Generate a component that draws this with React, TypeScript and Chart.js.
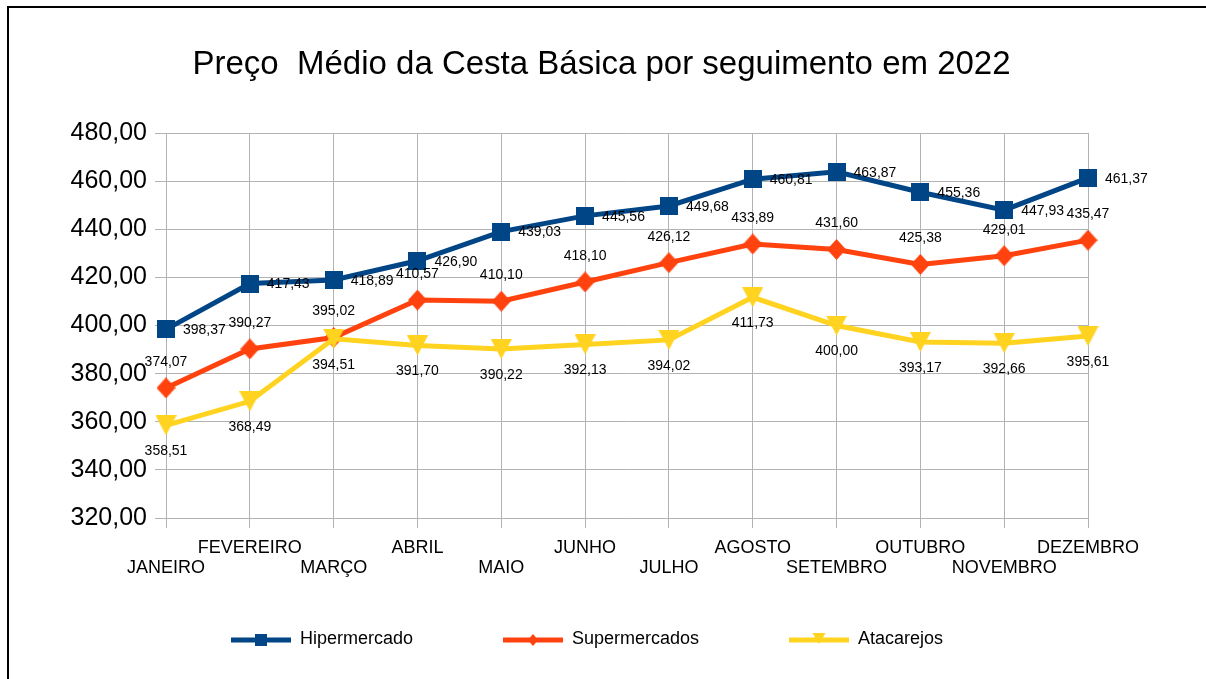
import React, { useEffect, useRef } from 'react';
import { Chart, registerables } from 'chart.js';

Chart.register(...registerables);

const chartTitle = 'Preço  Médio da Cesta Básica por seguimento em 2022';
const months = [
  'JANEIRO', 'FEVEREIRO', 'MARÇO', 'ABRIL', 'MAIO', 'JUNHO',
  'JULHO', 'AGOSTO', 'SETEMBRO', 'OUTUBRO', 'NOVEMBRO', 'DEZEMBRO',
];
const hipermercado = [398.37, 417.43, 418.89, 426.9, 439.03, 445.56, 449.68, 460.81, 463.87, 455.36, 447.93, 461.37];
const supermercados = [374.07, 390.27, 395.02, 410.57, 410.1, 418.1, 426.12, 433.89, 431.6, 425.38, 429.01, 435.47];
const atacarejos = [358.51, 368.49, 394.51, 391.7, 390.22, 392.13, 394.02, 411.73, 400.0, 393.17, 392.66, 395.61];
const seriesNames = ['Hipermercado', 'Supermercados', 'Atacarejos'];
const seriesColors = ['#004586', '#ff420e', '#ffd320'];
const seriesShapes = ['square', 'diamond', 'triangle'];
const yMin = 320;
const yMax = 480;
const yStep = 20;

const FONT = '"Liberation Sans", Arial, Helvetica, sans-serif';
const fmt = (v: number) => Number(v).toFixed(2).replace('.', ',');

// label placement per series (style, not data)
const labelPlacement = [
  { dx: 17, dy: 1, align: 'left' as CanvasTextAlign },
  { dx: 0, dy: -26, align: 'center' as CanvasTextAlign },
  { dx: 0, dy: 26, align: 'center' as CanvasTextAlign },
];

// legend layout (style)
const legendStyle = { centerX: 587, centerY: 639.5, symbolWidth: 60, textGap: 9, itemGap: 90, fontSize: 18 };

function drawShape(ctx: CanvasRenderingContext2D, shape: string, x: number, y: number, w: number, h: number) {
  ctx.beginPath();
  if (shape === 'square') {
    ctx.rect(x, y, w, h);
  } else if (shape === 'diamond') {
    ctx.moveTo(x + w / 2, y);
    ctx.lineTo(x + w, y + h / 2);
    ctx.lineTo(x + w / 2, y + h);
    ctx.lineTo(x, y + h / 2);
    ctx.closePath();
  } else {
    ctx.moveTo(x, y);
    ctx.lineTo(x + w, y);
    ctx.lineTo(x + w / 2, y + h);
    ctx.closePath();
  }
  ctx.fill();
}

function makeMarker(shape: string, color: string): HTMLCanvasElement {
  const dims: Record<string, [number, number]> = {
    square: [18, 18],
    diamond: [19, 21],
    triangle: [21, 20],
  };
  const [w, h] = dims[shape];
  const c = document.createElement('canvas');
  c.width = w;
  c.height = h;
  const ctx = c.getContext('2d')!;
  ctx.fillStyle = color;
  drawShape(ctx, shape, 0, 0, w, h);
  return c;
}

function makeLegendSymbol(shape: string, color: string): HTMLCanvasElement {
  const c = document.createElement('canvas');
  c.width = 60;
  c.height = 16;
  const ctx = c.getContext('2d')!;
  ctx.fillStyle = color;
  ctx.fillRect(0, 5.5, 60, 5);
  if (shape === 'square') drawShape(ctx, shape, 24, 2, 12, 12);
  else if (shape === 'diamond') drawShape(ctx, shape, 25, 2, 10, 12);
  else drawShape(ctx, shape, 23.5, 1, 13, 11);
  return c;
}

const dataLabelsPlugin = {
  id: 'dataLabelsPlugin',
  afterDatasetsDraw(chart: any) {
    const ctx: CanvasRenderingContext2D = chart.ctx;
    ctx.save();
    ctx.font = `14px ${FONT}`;
    ctx.fillStyle = '#000';
    ctx.textBaseline = 'middle';
    chart.data.datasets.forEach((ds: any, i: number) => {
      const meta = chart.getDatasetMeta(i);
      const p = labelPlacement[i];
      ctx.textAlign = p.align;
      meta.data.forEach((pt: any, j: number) => {
        ctx.fillText(fmt(ds.data[j]), pt.x + p.dx, pt.y + p.dy);
      });
    });
    ctx.restore();
  },
};

const titleCenterPlugin = {
  id: 'titleCenterPlugin',
  afterLayout(chart: any) {
    const t = chart.titleBlock;
    if (t) {
      t.left = 0;
      t.right = chart.width - 3;
      t.width = t.right - t.left;
    }
  },
};

function makeLegendPlugin(symbols: HTMLCanvasElement[]) {
  return {
    id: 'lineLegendPlugin',
    afterDraw(chart: any) {
      const ctx: CanvasRenderingContext2D = chart.ctx;
      const st = legendStyle;
      ctx.save();
      ctx.font = `${st.fontSize}px ${FONT}`;
      ctx.fillStyle = '#000';
      ctx.textBaseline = 'middle';
      ctx.textAlign = 'left';
      const items = chart.data.datasets.map((ds: any, i: number) => {
        const tw = ctx.measureText(ds.label).width;
        return { text: ds.label, w: st.symbolWidth + st.textGap + tw, sym: symbols[i] };
      });
      const total = items.reduce((a: number, it: any) => a + it.w, 0) + st.itemGap * (items.length - 1);
      let x = st.centerX - total / 2;
      items.forEach((it: any) => {
        ctx.drawImage(it.sym, Math.round(x), Math.round(st.centerY - it.sym.height / 2));
        ctx.fillText(it.text, x + st.symbolWidth + st.textGap, st.centerY);
        x += it.w + st.itemGap;
      });
      ctx.restore();
    },
  };
}

export default function App() {
  const ref = useRef<HTMLCanvasElement | null>(null);

  useEffect(() => {
    if (!ref.current) return;
    const series = [hipermercado, supermercados, atacarejos];
    const markers = seriesShapes.map((s, i) => makeMarker(s, seriesColors[i]));
    const legendSymbols = seriesShapes.map((s, i) => makeLegendSymbol(s, seriesColors[i]));

    const chart = new Chart(ref.current, {
      type: 'line',
      data: {
        labels: months,
        datasets: series.map((d, i) => ({
          label: seriesNames[i],
          data: d,
          borderColor: seriesColors[i],
          backgroundColor: seriesColors[i],
          borderWidth: 5,
          pointStyle: markers[i] as any,
          pointRadius: 10,
          tension: 0,
          fill: false,
          order: 3 - i,
        })),
      },
      options: {
        responsive: false,
        animation: false,
        devicePixelRatio: 1,
        layout: { padding: { left: 0, right: 118, top: 0, bottom: 81 } },
        plugins: {
          title: {
            display: true,
            text: chartTitle,
            color: '#000',
            font: { family: FONT, size: 33, weight: 'normal' as any },
            padding: { top: 45, bottom: 48.4 },
          },
          legend: { display: false },
          tooltip: { enabled: false },
        },
        scales: {
          x: {
            type: 'category',
            offset: false,
            grid: { color: '#b3b3b3', tickColor: '#b3b3b3', tickLength: 10, lineWidth: 1 },
            border: { color: '#b3b3b3' },
            ticks: {
              autoSkip: false,
              maxRotation: 0,
              minRotation: 0,
              padding: 10,
              color: '#000',
              font: { family: FONT, size: 18, lineHeight: 1.111 },
              callback: (_v: any, idx: number) =>
                idx % 2 === 0 ? ['', months[idx]] : [months[idx], ''],
            },
            afterFit: (s: any) => {
              s.height = 80;
            },
          },
          y: {
            min: yMin,
            max: yMax,
            grid: { color: '#b3b3b3', tickColor: '#b3b3b3', tickLength: 11, lineWidth: 1 },
            border: { color: '#b3b3b3' },
            ticks: {
              stepSize: yStep,
              padding: 8,
              color: '#000',
              font: { family: FONT, size: 25 },
              callback: (v: any) => fmt(Number(v)),
            },
            afterFit: (s: any) => {
              s.width = 166;
            },
          },
        },
      },
      plugins: [dataLabelsPlugin, titleCenterPlugin, makeLegendPlugin(legendSymbols)],
    } as any);

    return () => chart.destroy();
  }, []);

  return (
    <div
      style={{
        position: 'fixed',
        left: 0,
        top: 0,
        width: 1206,
        height: 679,
        overflow: 'hidden',
        background: '#fff',
      }}
    >
      <div
        style={{
          position: 'absolute',
          left: 7,
          top: 6,
          width: 1400,
          height: 900,
          borderLeft: '2px solid #000',
          borderTop: '2px solid #000',
        }}
      />
      <canvas
        ref={ref}
        width={1206}
        height={679}
        style={{ position: 'absolute', left: 0, top: 0, width: 1206, height: 679, display: 'block' }}
      />
    </div>
  );
}
